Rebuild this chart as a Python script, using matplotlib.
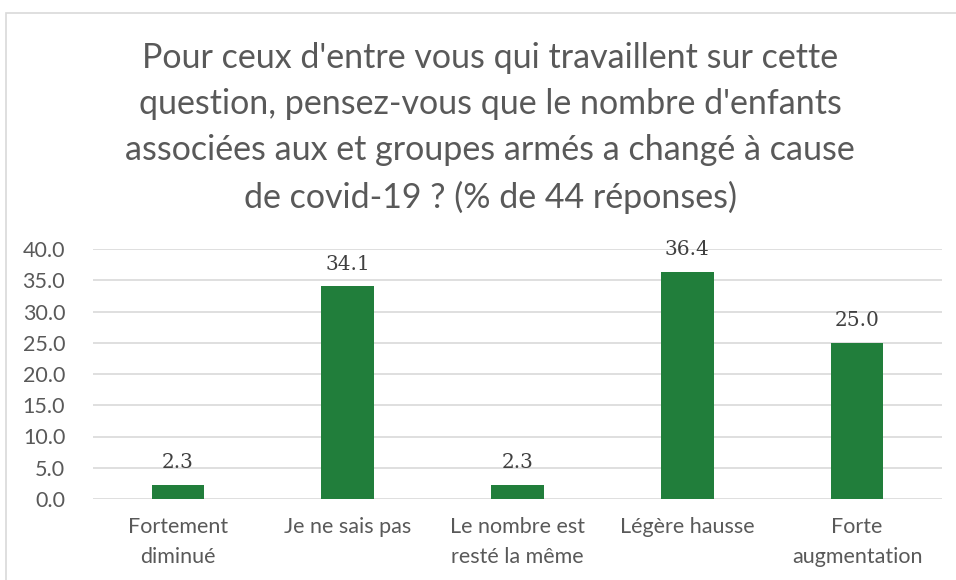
import matplotlib.pyplot as plt
from matplotlib.patches import Rectangle

categories = ["Fortement\ndiminué", "Je ne sais pas", "Le nombre est\nresté la même",
              "Légère hausse", "Forte\naugmentation"]
values = [2.3, 34.1, 2.3, 36.4, 25.0]
yticks = [0, 5, 10, 15, 20, 25, 30, 35, 40]

title = ("Pour ceux d'entre vous qui travaillent sur cette\n"
         "question, pensez-vous que le nombre d'enfants\n"
         "associées aux et groupes armés a changé à cause\n"
         "de covid-19 ? (% de 44 réponses)")

grey = "#595959"
green = "#217E3B"

plt.rcParams['font.family'] = ['Lato', 'DejaVu Sans']

fig = plt.figure(figsize=(9.56, 5.8), dpi=100)
fig.patches.append(Rectangle((6 / 956, -0.1), 1.0, 1 - 13 / 580 + 0.1,
                             transform=fig.transFigure, fill=False,
                             edgecolor="#D9D9D9", lw=1.2))

ax = fig.add_axes([93 / 956, 1 - 499 / 580, (942 - 93) / 956, 250 / 580])
x = range(len(values))
bars = ax.bar(x, values, width=0.31, color=green, zorder=3)
for xi, v in zip(x, values):
    ax.text(xi, v + 3.5, "%.1f" % v, ha="center", va="center",
            fontsize=14.5, color="#404040", family="DejaVu Serif")

ax.set_xlim(-0.5, len(values) - 0.5)
ax.set_ylim(0, 40)
ax.set_yticks(yticks)
ax.set_yticklabels(["%.1f" % t for t in yticks])
ax.set_xticks(list(x))
ax.set_xticklabels(categories, linespacing=1.6)
ax.tick_params(axis="both", length=0, colors=grey, labelsize=15.5)
ax.tick_params(axis="x", pad=13)
ax.tick_params(axis="y", pad=20)
ax.grid(axis="y", color="#D9D9D9", lw=1.2, zorder=0)
for s in ax.spines.values():
    s.set_visible(False)

fig.text(490 / 956, 1 - 128 / 580, title, ha="center", va="center",
         fontsize=24.5, color=grey, linespacing=1.55)

fig.savefig("out.png", dpi=100)
